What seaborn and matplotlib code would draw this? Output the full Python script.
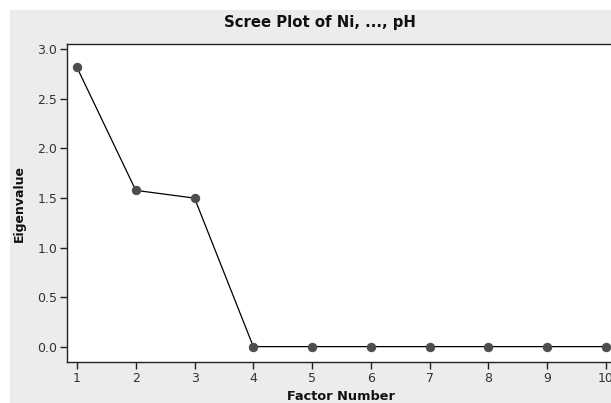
import matplotlib
matplotlib.use('Agg')
import matplotlib.pyplot as plt
import seaborn as sns
from matplotlib.patches import Rectangle

# Scree plot values
factor_number = [1, 2, 3, 4, 5, 6, 7, 8, 9, 10]
eigenvalue = [2.814, 1.577, 1.499, 0.004, 0.004, 0.004, 0.004, 0.004, 0.004, 0.004]
y_ticks = [0.0, 0.5, 1.0, 1.5, 2.0, 2.5, 3.0]

sns.set_style('white')
plt.rcParams['font.family'] = ['DejaVu Sans']

fig = plt.figure(figsize=(6.11, 4.03), dpi=100, facecolor='white')
# light gray panel behind the graph (Minitab style)
fig.patches.append(Rectangle((0.0164, 0.0), 1.0, 0.976, transform=fig.transFigure,
                             facecolor='#ececec', edgecolor='none', zorder=-1))

ax = fig.add_axes([0.1097, 0.1017, 0.905, 0.789])
ax.set_facecolor('white')

sns.lineplot(x=factor_number, y=eigenvalue, ax=ax, color='black', linewidth=0.9,
             marker='o', markersize=6, markerfacecolor='#4d4d4d',
             markeredgecolor='#4d4d4d')

ax.set_xlim(0.83, 10.24)
ax.set_ylim(-0.151, 3.05)
ax.set_xticks(factor_number)
ax.set_yticks(y_ticks)
ax.set_yticklabels([f'{v:.1f}' for v in y_ticks])

for side in ['left', 'top', 'bottom']:
    ax.spines[side].set_color('#222222')
    ax.spines[side].set_linewidth(1.0)
ax.spines['right'].set_visible(False)

ax.tick_params(axis='both', direction='out', length=5, width=1, color='#222222',
               labelsize=9, labelcolor='#333333', bottom=True, left=True, pad=2)

ax.set_xlabel('')
ax.set_ylabel('')
fig.text(0.558, 0.017, 'Factor Number', ha='center', va='center',
         fontsize=9.3, fontweight='bold', color='#111111')
fig.text(0.031, 0.494, 'Eigenvalue', ha='center', va='center', rotation=90,
         fontsize=9, fontweight='bold', color='#111111')
fig.text(0.524, 0.943, 'Scree Plot of Ni, ..., pH', ha='center', va='center',
         fontsize=10.7, fontweight='bold', color='#111111')

fig.savefig('out.png', dpi=100)
